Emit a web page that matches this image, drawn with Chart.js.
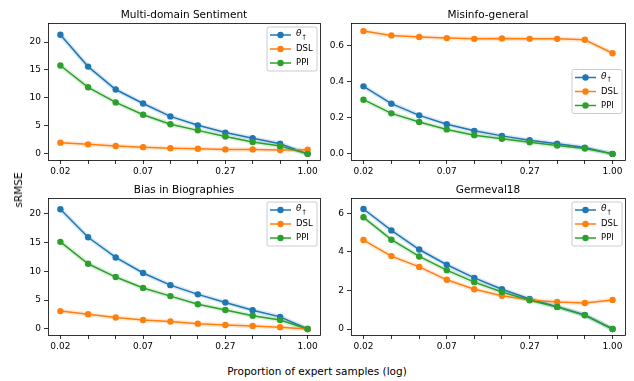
<!DOCTYPE html>
<html>
<head>
<meta charset="utf-8">
<script src="https://cdn.jsdelivr.net/npm/chart.js@4.4.1/dist/chart.umd.min.js"></script>
<style>
    body { margin: 0; background: #fff; width: 634px; height: 381px; position: relative; overflow: hidden; font-family: 'DejaVu Sans', sans-serif; }
    canvas { position: absolute; }
    .label { position: absolute; font-size: 10.5px; line-height: 12px; color: #000; white-space: nowrap; }
</style>
</head>
<body>
<canvas id="sentiment" width="330" height="178" style="left:0;top:0"></canvas>
<canvas id="misinfo" width="308" height="178" style="left:326px;top:0"></canvas>
<canvas id="bias" width="330" height="178" style="left:0;top:178px"></canvas>
<canvas id="germeval" width="308" height="178" style="left:326px;top:178px"></canvas>
<div class="label" style="left:18px;top:190px;transform:translate(-50%,-50%) rotate(-90deg)">sRMSE</div>
<div class="label" style="left:317px;top:371px;transform:translate(-50%,-50%)">Proportion of expert samples (log)</div>

<script>
// x positions: proportion of expert samples (log spaced)
const fractions = [0.02, 0.031, 0.048, 0.074, 0.114, 0.176, 0.272, 0.419, 0.647, 1.0];
const xTickLabels = ['0.02', '', '', '0.07', '', '', '0.27', '', '', '1.00'];

const sentimentTheta = [21.3, 15.6, 11.5, 9.0, 6.7, 5.1, 3.8, 2.8, 1.8, 0];
const sentimentDsl = [2.0, 1.7, 1.4, 1.2, 1.0, 0.9, 0.8, 0.8, 0.7, 0.75];
const sentimentPpi = [15.8, 11.9, 9.2, 7.0, 5.3, 4.2, 3.1, 2.1, 1.4, 0];
const sentimentYTicks = [0, 5, 10, 15, 20];

const misinfoTheta = [0.375, 0.279, 0.214, 0.165, 0.128, 0.100, 0.076, 0.056, 0.035, 0];
const misinfoDsl = [0.682, 0.658, 0.649, 0.643, 0.639, 0.641, 0.639, 0.639, 0.634, 0.559];
const misinfoPpi = [0.301, 0.225, 0.177, 0.136, 0.104, 0.084, 0.065, 0.046, 0.030, 0];
const misinfoYTicks = [0, 0.2, 0.4, 0.6];

const biasTheta = [20.75, 15.9, 12.4, 9.7, 7.6, 6.0, 4.6, 3.25, 2.1, 0];
const biasDsl = [3.1, 2.55, 2.0, 1.55, 1.3, 0.93, 0.7, 0.52, 0.3, 0];
const biasPpi = [15.1, 11.3, 9.0, 7.1, 5.7, 4.3, 3.3, 2.3, 1.55, 0];
const biasYTicks = [0, 5, 10, 15, 20];

const germevalTheta = [6.22, 5.11, 4.12, 3.33, 2.65, 2.06, 1.56, 1.16, 0.73, 0];
const germevalDsl = [4.61, 3.78, 3.22, 2.55, 2.06, 1.72, 1.51, 1.40, 1.35, 1.51];
const germevalPpi = [5.79, 4.63, 3.76, 3.05, 2.43, 1.92, 1.49, 1.14, 0.71, 0];
const germevalYTicks = [0, 2, 4, 6];

const seriesNames = ['θ', 'DSL', 'PPI'];
const colors = ['#1f77b4', '#ff7f0e', '#2ca02c'];
const bandColors = ['rgba(31,119,180,0.17)', 'rgba(255,127,14,0.17)', 'rgba(44,160,44,0.17)'];

const panelPlugin = {
    id: 'panel',
    afterDatasetsDraw(chart) {
        const opts = chart.options.plugins.panel;
        const area = chart.chartArea;
        const ctx = chart.ctx;
        ctx.save();

        // frame on all four sides
        ctx.strokeStyle = '#000';
        ctx.lineWidth = 0.8;
        ctx.strokeRect(Math.round(area.left) + 0.5, Math.round(area.top) + 0.5,
            Math.round(area.right - area.left), Math.round(area.bottom - area.top));

        // title
        ctx.fillStyle = '#000';
        ctx.font = '10.5px "DejaVu Sans"';
        ctx.textAlign = 'center';
        ctx.textBaseline = 'alphabetic';
        ctx.fillText(opts.title, (area.left + area.right) / 2, area.top - 5);

        // legend box
        const boxW = 50;
        const boxH = 44;
        const x0 = area.right - 3 - boxW;
        const y0 = opts.legend === 'center' ? (area.top + area.bottom) / 2 - boxH / 2 : area.top + 4;
        const r = 2;
        ctx.beginPath();
        ctx.moveTo(x0 + r, y0);
        ctx.arcTo(x0 + boxW, y0, x0 + boxW, y0 + boxH, r);
        ctx.arcTo(x0 + boxW, y0 + boxH, x0, y0 + boxH, r);
        ctx.arcTo(x0, y0 + boxH, x0, y0, r);
        ctx.arcTo(x0, y0, x0 + boxW, y0, r);
        ctx.closePath();
        ctx.fillStyle = 'rgba(255,255,255,0.8)';
        ctx.fill();
        ctx.strokeStyle = '#cccccc';
        ctx.lineWidth = 1;
        ctx.stroke();

        seriesNames.forEach((name, i) => {
            const y = y0 + 8 + i * 14;
            ctx.strokeStyle = colors[i];
            ctx.lineWidth = 1.5;
            ctx.beginPath();
            ctx.moveTo(x0 + 3, y);
            ctx.lineTo(x0 + 24, y);
            ctx.stroke();
            ctx.fillStyle = colors[i];
            ctx.beginPath();
            ctx.arc(x0 + 13.5, y, 3.2, 0, Math.PI * 2);
            ctx.fill();

            ctx.fillStyle = '#000';
            ctx.textAlign = 'left';
            ctx.textBaseline = 'middle';
            if (i === 0) {
                ctx.font = 'italic 9px "DejaVu Sans"';
                ctx.fillText(name, x0 + 29, y - 1);
                const w = ctx.measureText(name).width;
                ctx.font = '6.5px "DejaVu Sans"';
                ctx.fillText('†', x0 + 29 + w + 1, y + 2);
            } else {
                ctx.font = '8.5px "DejaVu Sans"';
                ctx.fillText(name, x0 + 29, y);
            }
        });

        ctx.restore();
    },
};

function makePanel(id, panel) {
    const series = [panel.theta, panel.dsl, panel.ppi];
    const datasets = [];

    series.forEach((data, i) => {
        datasets.push({
            data,
            borderColor: colors[i],
            backgroundColor: colors[i],
            borderWidth: 1.5,
            pointRadius: 3.2,
            pointBorderWidth: 0,
            order: 2 - i,
        });
        datasets.push({
            data,
            borderColor: bandColors[i],
            borderWidth: 4.5,
            pointRadius: 0,
            order: 5 - i,
        });
    });

    return new Chart(document.getElementById(id), {
        type: 'line',
        data: { labels: fractions, datasets },
        options: {
            responsive: false,
            animation: false,
            events: [],
            layout: { padding: { top: panel.padTop, right: panel.padRight, left: 0, bottom: 0 } },
            plugins: {
                legend: { display: false },
                tooltip: { enabled: false },
                panel: { title: panel.title, legend: panel.legend },
            },
            scales: {
                x: {
                    type: 'logarithmic',
                    bounds: 'data',
                    min: 0.01644,
                    max: 1.216,
                    border: { display: false },
                    grid: { drawOnChartArea: false, drawTicks: true, tickLength: 4, color: '#000', lineWidth: 0.8 },
                    afterBuildTicks: (scale) => {
                        scale.ticks = fractions.map((v) => ({ value: v }));
                    },
                    ticks: {
                        autoSkip: false,
                        maxRotation: 0,
                        minRotation: 0,
                        padding: 2,
                        color: '#000',
                        font: { family: 'DejaVu Sans', size: 9 },
                        callback: (value, index) => xTickLabels[index],
                    },
                    afterFit: (scale) => {
                        scale.height = panel.xHeight;
                    },
                },
                y: {
                    type: 'linear',
                    bounds: 'data',
                    min: panel.yMin,
                    max: panel.yMax,
                    border: { display: false },
                    grid: { drawOnChartArea: false, drawTicks: true, tickLength: 4, color: '#000', lineWidth: 0.8 },
                    afterBuildTicks: (scale) => {
                        scale.ticks = panel.yTicks.map((v) => ({ value: v }));
                    },
                    ticks: {
                        padding: 3,
                        color: '#000',
                        font: { family: 'DejaVu Sans', size: 9 },
                        callback: (value) => (panel.decimals ? value.toFixed(panel.decimals) : String(value)),
                    },
                    afterFit: (scale) => {
                        scale.width = panel.yWidth;
                    },
                },
            },
        },
        plugins: [panelPlugin],
    });
}

makePanel('sentiment', {
    title: 'Multi-domain Sentiment',
    theta: sentimentTheta, dsl: sentimentDsl, ppi: sentimentPpi,
    yTicks: sentimentYTicks, yMin: -1.1, yMax: 23.4, decimals: 0,
    legend: 'upper', padTop: 23, padRight: 10, yWidth: 48, xHeight: 18,
});

makePanel('misinfo', {
    title: 'Misinfo-general',
    theta: misinfoTheta, dsl: misinfoDsl, ppi: misinfoPpi,
    yTicks: misinfoYTicks, yMin: -0.034, yMax: 0.727, decimals: 1,
    legend: 'center', padTop: 23, padRight: 9, yWidth: 25, xHeight: 18,
});

makePanel('bias', {
    title: 'Bias in Biographies',
    theta: biasTheta, dsl: biasDsl, ppi: biasPpi,
    yTicks: biasYTicks, yMin: -1.04, yMax: 22.7, decimals: 0,
    legend: 'upper', padTop: 20, padRight: 10, yWidth: 48, xHeight: 21,
});

makePanel('germeval', {
    title: 'Germeval18',
    theta: germevalTheta, dsl: germevalDsl, ppi: germevalPpi,
    yTicks: germevalYTicks, yMin: -0.31, yMax: 6.79, decimals: 0,
    legend: 'upper', padTop: 20, padRight: 9, yWidth: 25, xHeight: 21,
});
</script>
</body>
</html>
